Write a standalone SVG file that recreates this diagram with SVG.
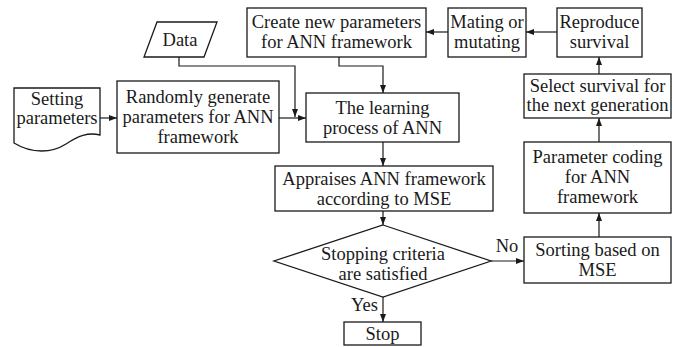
<svg xmlns="http://www.w3.org/2000/svg" width="681" height="347" viewBox="0 0 681 347" font-family="'Liberation Serif', 'DejaVu Serif', serif">
  <style>
    .box { fill: #ffffff; stroke: #1a1a1a; stroke-width: 1.3; }
    .lbl { font-size: 18.5px; fill: #1a1a1a; text-anchor: middle; }
    .edge { fill: none; stroke: #1a1a1a; stroke-width: 1.2; }
    .arr { marker-end: url(#head); }
  </style>
  <defs>
    <marker id="head" viewBox="0 0 8 6" refX="8" refY="3" markerWidth="8" markerHeight="6" markerUnits="userSpaceOnUse" orient="auto">
      <path d="M0,0 L8,3 L0,6 z" fill="#1a1a1a"/>
    </marker>
  </defs>
  <rect width="681" height="347" fill="#ffffff"/>

  <!-- connectors -->
  <g id="connectors">
    <path class="edge arr" d="M100,118 H117"/>
    <path class="edge arr" d="M279,118 H306"/>
    <path class="edge arr" d="M179,57 V66 H295 V117"/>
    <path class="edge arr" d="M339,57 V66 H383 V93"/>
    <path class="edge arr" d="M383,142 V166"/>
    <path class="edge arr" d="M383,211 V225"/>
    <path class="edge arr" d="M383,297 V322"/>
    <path class="edge arr" d="M491,261 H524"/>
    <path class="edge arr" d="M599,237 V213"/>
    <path class="edge arr" d="M599,142 V118"/>
    <path class="edge arr" d="M599,74 V57"/>
    <path class="edge arr" d="M557,32 H526"/>
    <path class="edge arr" d="M448,32 H426"/>
    <text class="lbl" x="507" y="252">No</text>
    <text class="lbl" x="378" y="311" style="text-anchor:end">Yes</text>
  </g>

  <!-- nodes -->
  <g id="setting">
    <path class="box" d="M14,88 H100 V135 C88,132 78,136 66,144 C52,153 32,154 14,143 Z"/>
    <text class="lbl" x="57" y="105">Setting</text>
    <text class="lbl" x="57" y="124">parameters</text>
  </g>
  <g id="data">
    <polygon class="box" points="157,22 217,22 204,57 144,57"/>
    <text class="lbl" x="180" y="46">Data</text>
  </g>
  <g id="random">
    <rect class="box" x="117" y="81" width="162" height="72"/>
    <text class="lbl" x="198" y="103">Randomly generate</text>
    <text class="lbl" x="198" y="123">parameters for ANN</text>
    <text class="lbl" x="198" y="143">framework</text>
  </g>
  <g id="create">
    <rect class="box" x="247" y="8" width="179" height="49"/>
    <text class="lbl" x="336.5" y="28">Create new parameters</text>
    <text class="lbl" x="336.5" y="48">for ANN framework</text>
  </g>
  <g id="mating">
    <rect class="box" x="448" y="8" width="78" height="49"/>
    <text class="lbl" x="487" y="28">Mating or</text>
    <text class="lbl" x="487" y="48">mutating</text>
  </g>
  <g id="reproduce">
    <rect class="box" x="557" y="8" width="85" height="49"/>
    <text class="lbl" x="599.5" y="28">Reproduce</text>
    <text class="lbl" x="599.5" y="48">survival</text>
  </g>
  <g id="learning">
    <rect class="box" x="306" y="93" width="153" height="49"/>
    <text class="lbl" x="382.5" y="113.5">The learning</text>
    <text class="lbl" x="382.5" y="133.5">process of ANN</text>
  </g>
  <g id="select">
    <rect class="box" x="524" y="74" width="147" height="44"/>
    <text class="lbl" x="597.5" y="92">Select survival for</text>
    <text class="lbl" x="597.5" y="111">the next generation</text>
  </g>
  <g id="coding">
    <rect class="box" x="524" y="142" width="147" height="71"/>
    <text class="lbl" x="597.5" y="163">Parameter coding</text>
    <text class="lbl" x="597.5" y="183">for ANN</text>
    <text class="lbl" x="597.5" y="203">framework</text>
  </g>
  <g id="appraise">
    <rect class="box" x="275" y="166" width="218" height="45"/>
    <text class="lbl" x="384" y="185">Appraises ANN framework</text>
    <text class="lbl" x="384" y="204.5">according to MSE</text>
  </g>
  <g id="criteria">
    <polygon class="box" points="383,225 491,261 383,297 274,261"/>
    <text class="lbl" x="383" y="260">Stopping criteria</text>
    <text class="lbl" x="383" y="280">are satisfied</text>
  </g>
  <g id="sorting">
    <rect class="box" x="524" y="237" width="147" height="46"/>
    <text class="lbl" x="597.5" y="256">Sorting based on</text>
    <text class="lbl" x="597.5" y="276">MSE</text>
  </g>
  <g id="stop">
    <rect class="box" x="344" y="322" width="77" height="23"/>
    <text class="lbl" x="382.5" y="340">Stop</text>
  </g>
</svg>
